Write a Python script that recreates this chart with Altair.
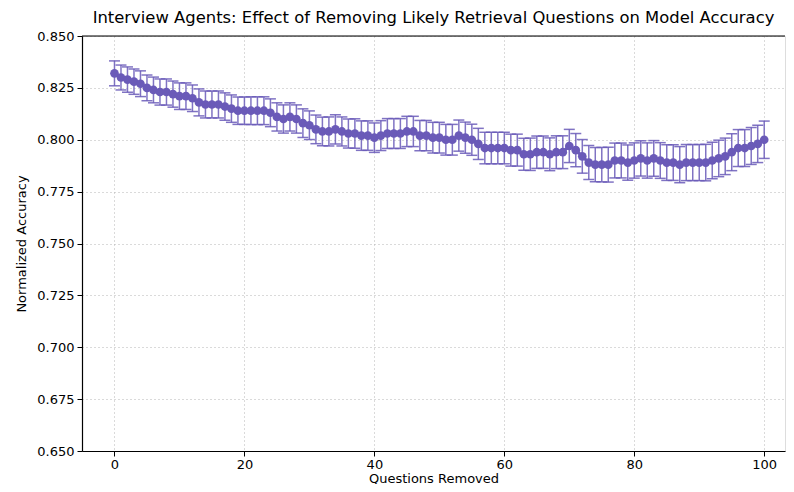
import altair as alt
import pandas as pd

questions_removed = list(range(0, 101))
accuracy = [
    0.832, 0.830, 0.829, 0.828, 0.827, 0.825, 0.824, 0.823, 0.823, 0.822,
    0.821, 0.821, 0.820, 0.818, 0.817, 0.817, 0.817, 0.816, 0.815, 0.814,
    0.814, 0.814, 0.814, 0.814, 0.813, 0.811, 0.810, 0.811, 0.810, 0.808,
    0.807, 0.805, 0.804, 0.804, 0.805, 0.804, 0.803, 0.803, 0.802, 0.802,
    0.801, 0.802, 0.803, 0.803, 0.803, 0.804, 0.804, 0.802, 0.802, 0.801,
    0.801, 0.800, 0.800, 0.802, 0.801, 0.800, 0.798, 0.796, 0.796, 0.796,
    0.796, 0.795, 0.795, 0.793, 0.793, 0.794, 0.794, 0.793, 0.794, 0.794,
    0.797, 0.795, 0.792, 0.789, 0.788, 0.788, 0.788, 0.790, 0.790, 0.789,
    0.790, 0.791, 0.790, 0.791, 0.790, 0.789, 0.789, 0.788, 0.789, 0.789,
    0.789, 0.789, 0.790, 0.791, 0.792, 0.794, 0.796, 0.796, 0.797, 0.798,
    0.800,
]
error_half = [
    0.0060, 0.0060, 0.0061, 0.0061, 0.0062, 0.0062, 0.0062, 0.0063, 0.0063, 0.0063,
    0.0064, 0.0064, 0.0064, 0.0065, 0.0065, 0.0065, 0.0065, 0.0066, 0.0066, 0.0066,
    0.0066, 0.0067, 0.0067, 0.0067, 0.0067, 0.0068, 0.0068, 0.0068, 0.0068, 0.0069,
    0.0069, 0.0069, 0.0069, 0.0070, 0.0070, 0.0070, 0.0070, 0.0071, 0.0071, 0.0071,
    0.0071, 0.0072, 0.0072, 0.0072, 0.0072, 0.0073, 0.0073, 0.0073, 0.0073, 0.0074,
    0.0074, 0.0074, 0.0074, 0.0075, 0.0075, 0.0075, 0.0075, 0.0076, 0.0076, 0.0076,
    0.0076, 0.0077, 0.0077, 0.0077, 0.0078, 0.0078, 0.0078, 0.0079, 0.0079, 0.0079,
    0.0080, 0.0080, 0.0081, 0.0082, 0.0083, 0.0083, 0.0084, 0.0084, 0.0084, 0.0085,
    0.0085, 0.0085, 0.0085, 0.0086, 0.0086, 0.0086, 0.0086, 0.0087, 0.0087, 0.0087,
    0.0087, 0.0088, 0.0088, 0.0088, 0.0088, 0.0089, 0.0089, 0.0089, 0.0089, 0.0090,
    0.0090,
]
y_ticks = [0.650, 0.675, 0.700, 0.725, 0.750, 0.775, 0.800, 0.825, 0.850]
x_ticks = [0, 20, 40, 60, 80, 100]

df = pd.DataFrame({
    "q": questions_removed,
    "acc": accuracy,
    "lo": [a - e for a, e in zip(accuracy, error_half)],
    "hi": [a + e for a, e in zip(accuracy, error_half)],
})

COLOR = "#6a5ab8"
FONT = "DejaVu Sans"

xscale = alt.Scale(domain=[-5, 103.2], nice=False, zero=False)
yscale = alt.Scale(domain=[0.65, 0.85], nice=False, zero=False)

common = dict(grid=True, gridDash=[1, 3], gridColor="#b4b4b4", gridWidth=1,
              domainColor="black", domainWidth=1.2, tickColor="black", tickSize=5,
              labelFontSize=13, titleFontSize=13, labelFont=FONT, titleFont=FONT,
              labelColor="black", titleColor="black", titleFontWeight="normal")
xaxis = alt.Axis(values=x_ticks, format="d", title="Questions Removed",
                 labelPadding=2, titlePadding=1, **common)
yaxis = alt.Axis(values=y_ticks, format=".3f", title="Normalized Accuracy",
                 labelPadding=3, titlePadding=8, **common)

base = alt.Chart(df)

err = base.mark_rule(color=COLOR, strokeWidth=1.5, opacity=0.85).encode(
    x=alt.X("q:Q", scale=xscale, axis=xaxis),
    y=alt.Y("lo:Q", scale=yscale, axis=yaxis),
    y2="hi:Q",
)
cap_lo = base.mark_tick(color=COLOR, orient="horizontal", size=11, thickness=1.5, opacity=0.85).encode(
    x=alt.X("q:Q", scale=xscale), y=alt.Y("lo:Q", scale=yscale))
cap_hi = base.mark_tick(color=COLOR, orient="horizontal", size=11, thickness=1.5, opacity=0.85).encode(
    x=alt.X("q:Q", scale=xscale), y=alt.Y("hi:Q", scale=yscale))
line = base.mark_line(color=COLOR, strokeWidth=3).encode(
    x=alt.X("q:Q", scale=xscale), y=alt.Y("acc:Q", scale=yscale))
pts = base.mark_circle(color=COLOR, size=75, opacity=1).encode(
    x=alt.X("q:Q", scale=xscale), y=alt.Y("acc:Q", scale=yscale))

top_spine = alt.Chart(pd.DataFrame({"v": [0.85]})).mark_rule(color="black", strokeWidth=1.2).encode(
    y=alt.Y("v:Q", scale=yscale))

chart = alt.layer(err, cap_lo, cap_hi, line, pts, top_spine).properties(
    width=703,
    height=415,
    title=alt.Title("Interview Agents: Effect of Removing Likely Retrieval Questions on Model Accuracy",
                    font=FONT, fontSize=16.4, fontWeight="normal", color="black",
                    anchor="middle", offset=4),
    autosize=alt.AutoSizeParams(type="none"),
    padding={"left": 74, "top": 28, "right": 1, "bottom": 33},
).configure_view(stroke=None).configure(background="white")

chart.save("out.html", embed_options={"renderer": "svg", "actions": False})
